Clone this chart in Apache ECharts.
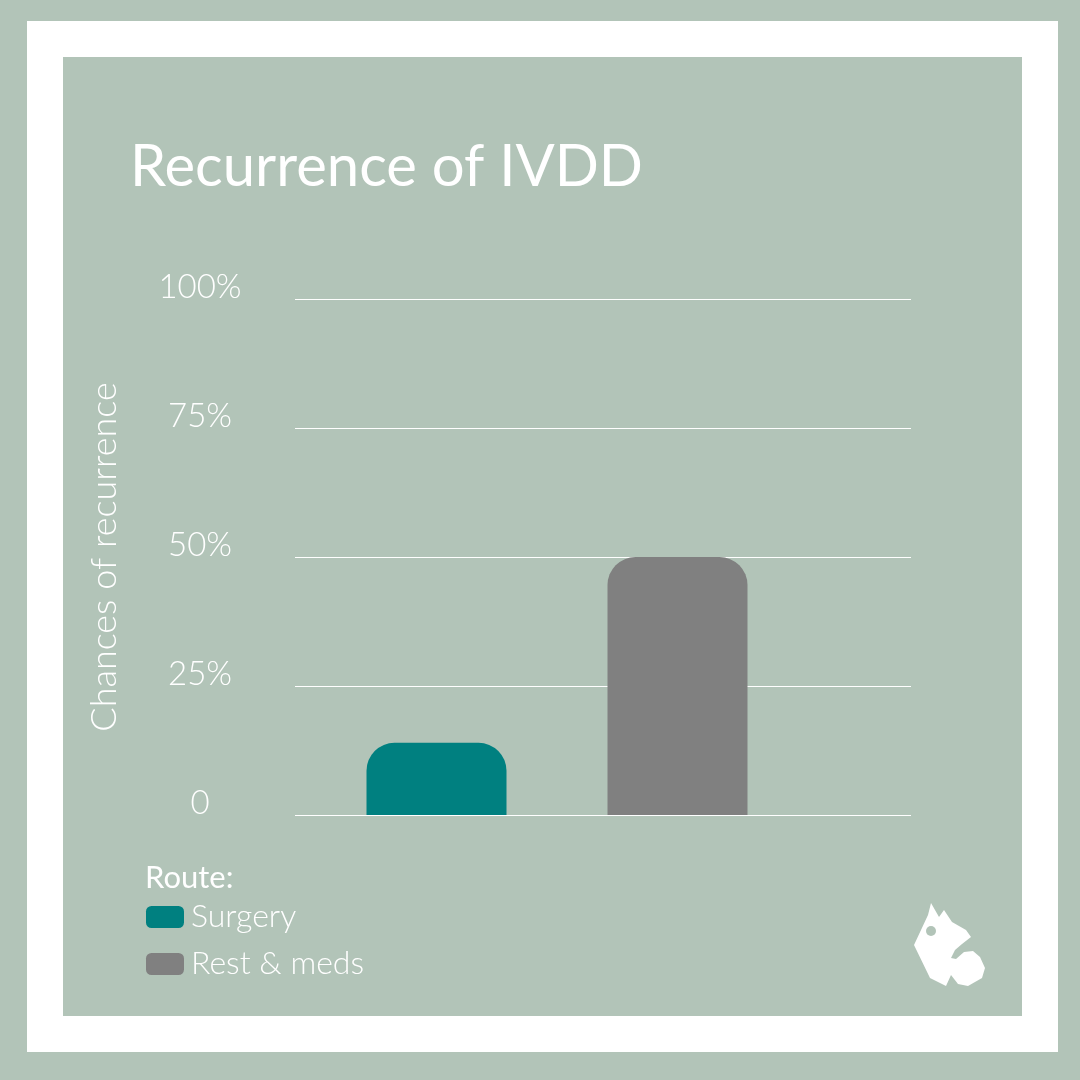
<!DOCTYPE html>
<html>
<head>
<meta charset="utf-8">
<script src="https://cdn.jsdelivr.net/npm/echarts@6/dist/echarts.min.js"></script>
<style>
  html, body { margin: 0; padding: 0; background: #b2c4b8; }
  #chart { width: 1080px; height: 1080px; }
</style>
</head>
<body>
<div id="chart"></div>
<script>
// data
var categories = ['Surgery', 'Rest & meds'];
var surgeryValues = [14, '-'];
var restValues = ['-', 50];
var tickLabels = {0: '0', 25: '25%', 50: '50%', 75: '75%', 100: '100%'};

var sage = '#b2c4b8';
var teal = '#008080';
var grey = '#808080';
var font = 'Lato';

var chart = echarts.init(document.getElementById('chart'));

var option = {
    backgroundColor: sage,
    animation: false,
    graphic: [
        { type: 'rect', z: -10, shape: { x: 27, y: 21, width: 1031, height: 1031 }, style: { fill: '#ffffff' } },
        { type: 'rect', z: -9, shape: { x: 63, y: 57, width: 959, height: 959 }, style: { fill: sage } },
        // little dog & cat logo, rough shape
        {
            type: 'polygon', z: 5,
            shape: {
                points: [[914, 945], [928, 915], [931, 903], [939, 917], [944, 910], [952, 922], [966, 930], [971, 937],
                         [962, 944], [955, 950], [951, 958], [956, 959], [964, 952], [973, 951], [980, 957], [985, 968],
                         [982, 978], [968, 986], [958, 984], [951, 975], [946, 986], [930, 978]]
            },
            style: { fill: '#ffffff' }
        },
        { type: 'circle', z: 6, shape: { cx: 931, cy: 931, r: 5 }, style: { fill: sage } }
    ],
    title: [
        {
            text: 'Recurrence of IVDD',
            left: 125, top: 133,
            textStyle: { color: '#ffffff', fontSize: 58, fontWeight: 'normal', fontFamily: font }
        },
        {
            text: 'Route:',
            left: 140, top: 857,
            textStyle: { color: '#ffffff', fontSize: 31, fontWeight: 'normal', fontFamily: font }
        }
    ],
    legend: {
        orient: 'vertical',
        left: 141, top: 896,
        itemWidth: 38, itemHeight: 22, itemGap: 15,
        icon: 'roundRect',
        data: categories,
        textStyle: { color: '#ffffff', fontSize: 32, fontWeight: 300, fontFamily: font, padding: [0, 0, 0, 2] }
    },
    grid: [
        { left: 295, right: 169, top: 299, bottom: 265 },
        { left: 316, width: 482, top: 299, bottom: 265 }
    ],
    xAxis: [
        { type: 'category', gridIndex: 0, data: [''], show: false },
        { type: 'category', gridIndex: 1, data: categories, axisLine: { show: false }, axisTick: { show: false }, axisLabel: { show: false } }
    ],
    yAxis: [
        {
            type: 'value', gridIndex: 0, min: 0, max: 100, interval: 25,
            name: 'Chances of recurrence',
            nameLocation: 'middle', nameGap: 173, nameRotate: 90,
            nameTextStyle: { color: '#ffffff', fontSize: 36, fontWeight: 300, fontFamily: font },
            axisLine: { show: false }, axisTick: { show: false },
            axisLabel: {
                margin: 95, align: 'center', verticalAlign: 'bottom', lineHeight: 24,
                color: '#ffffff', fontSize: 33, fontWeight: 300, fontFamily: font,
                formatter: function (v) { return tickLabels[v]; }
            },
            splitLine: { lineStyle: { color: '#ffffff', width: 1.2 } }
        },
        { type: 'value', gridIndex: 1, min: 0, max: 100, interval: 25, show: false, splitLine: { show: false } }
    ],
    series: [
        {
            name: categories[0], type: 'bar', xAxisIndex: 1, yAxisIndex: 1,
            barWidth: 140, barGap: '-100%', z: 3,
            itemStyle: { color: teal, borderRadius: [28, 28, 0, 0] },
            data: surgeryValues
        },
        {
            name: categories[1], type: 'bar', xAxisIndex: 1, yAxisIndex: 1,
            barWidth: 140, barGap: '-100%', z: 3,
            itemStyle: { color: grey, borderRadius: [28, 28, 0, 0] },
            data: restValues
        }
    ]
};

chart.setOption(option);
</script>
</body>
</html>
